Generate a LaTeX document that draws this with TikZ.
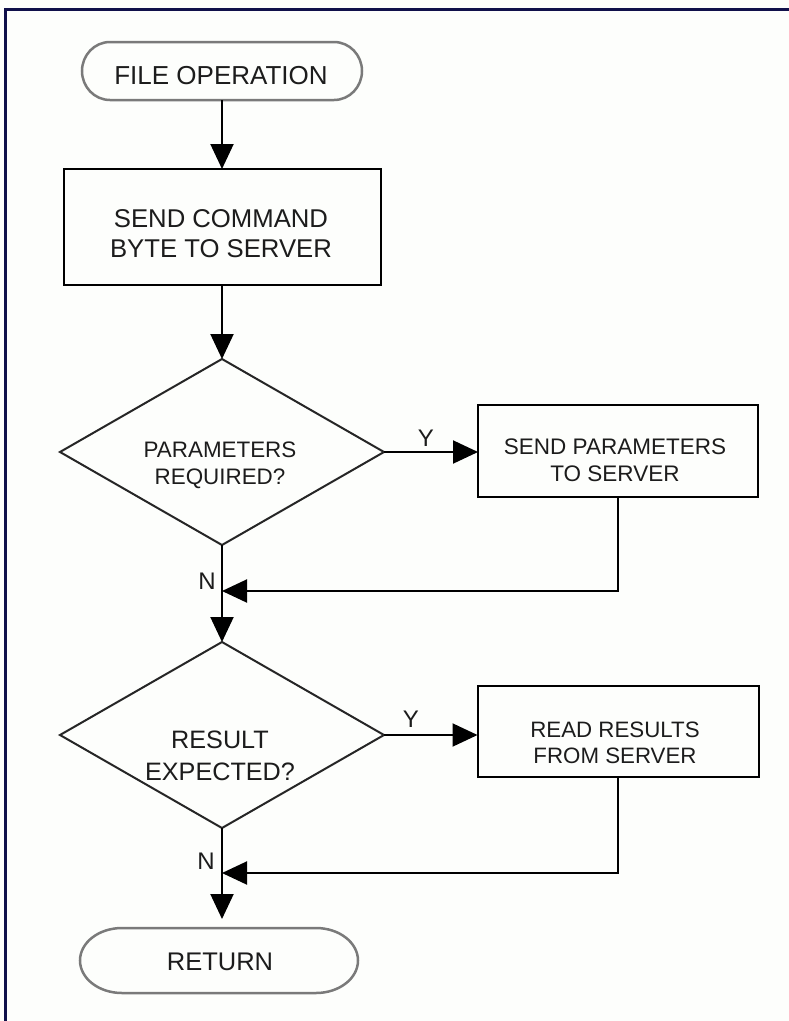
\documentclass[tikz,border=0pt]{standalone}
\usepackage{fontspec}
\setmainfont{Liberation Sans}
\usetikzlibrary{arrows.meta,calc,shapes.geometric}

\definecolor{paper}{HTML}{FDFEFC}
\definecolor{navy}{HTML}{10104A}
\definecolor{ink}{HTML}{1C1C1C}
\definecolor{capgray}{HTML}{7A7A7A}

% Capsule outline (terminal symbol) drawn round a placeholder node:
% #1 node name, #2 horizontal radius of the ends, #3 half height
\newcommand\capsuleoutline[3]{%
  \draw[termline] ($(#1.north west)+(#2,0)$) -- ($(#1.north east)+(-#2,0)$)
    arc[start angle=90, end angle=-90, x radius=#2pt, y radius=#3pt]
    -- ($(#1.south west)+(#2,0)$)
    arc[start angle=270, end angle=90, x radius=#2pt, y radius=#3pt]
    -- cycle;}

\begin{document}
\begin{tikzpicture}[x=1pt, y=-1pt,
  every node/.style={inner sep=0pt, outer sep=0pt},
  slot/.style={rectangle, draw=none},
  procbox/.style={rectangle, draw=black, line width=2pt},
  decision/.style={diamond, draw=black!85, line width=2pt},
  termline/.style={draw=capgray, line width=2.5pt},
  txt/.style={align=center, text=ink},
  wire/.style={draw=black, line width=2pt},
  flow/.style={wire, -{Triangle[length=25pt, width=23pt]}},
  flag/.style={text=ink, font=\fontsize{24}{28}\selectfont}]

% page and frame
\fill[paper] (0,0) rectangle (789,1021);
\useasboundingbox (0,0) rectangle (789,1021);
\draw[navy, line width=3pt] (789,9.5) -- (5,9.5) -- (5,1021);

% main column
\node[slot, minimum width=280pt, minimum height=58pt] (start) at (222,71) {};
\capsuleoutline{start}{28}{29}
\node[txt, font=\fontsize{26}{30}\selectfont] (starttext) at (221,76) {FILE OPERATION};

\node[procbox, minimum width=317pt, minimum height=116pt] (cmd) at (222,227) {};
\node[txt, font=\fontsize{25.7}{30}\selectfont] (cmdtext) at (221,234) {SEND COMMAND\\BYTE TO SERVER};

\node[decision, minimum width=324pt, minimum height=186pt] (dec1) at (222,452) {};
\node[txt, font=\fontsize{22.4}{27}\selectfont] (dec1text) at (220,465) {PARAMETERS\\REQUIRED?};

\node[decision, minimum width=324pt, minimum height=186pt] (dec2) at (222,735) {};
\node[txt, font=\fontsize{25.2}{32.5}\selectfont] (dec2text) at (220,756) {RESULT\\EXPECTED?};

\node[slot, minimum width=278pt, minimum height=65pt] (finish) at (219,960.5) {};
\capsuleoutline{finish}{42}{32.5}
\node[txt, font=\fontsize{25.5}{30}\selectfont] (finishtext) at (220,962) {RETURN};

% side actions
\node[procbox, minimum width=280pt, minimum height=92pt] (params) at (618,451) {};
\node[txt, font=\fontsize{22.5}{27}\selectfont] (paramstext) at (615,460) {SEND PARAMETERS\\TO SERVER};

\node[procbox, minimum width=281pt, minimum height=91pt] (results) at (618,731.5) {};
\node[txt, font=\fontsize{22.3}{26}\selectfont] (resultstext) at (615,742.5) {READ RESULTS\\FROM SERVER};

% merge points on the main column
\coordinate (join1) at (222,591);
\coordinate (join2) at (222,873);

% connectors
\draw[flow] (start.south) -- (start.south |- cmd.north);
\draw[flow] (cmd.south) -- (dec1.north);
\draw[flow] (dec1.east) -- (dec1.east -| params.west);
\draw[flow] (params.south) |- (join1);
\draw[flow] (dec1.south) -- (dec2.north);
\draw[flow] (dec2.east) -- (dec2.east -| results.west);
\draw[flow] (results.south) |- (join2);
\draw[flow, shorten >=9pt] (dec2.south) -- (dec2.south |- finish.north);

% branch labels
\node[flag] (y1) at (426,438) {Y};
\node[flag] (n1) at (207,581) {N};
\node[flag] (y2) at (411,719) {Y};
\node[flag] (n2) at (206,861) {N};
\end{tikzpicture}
\end{document}
